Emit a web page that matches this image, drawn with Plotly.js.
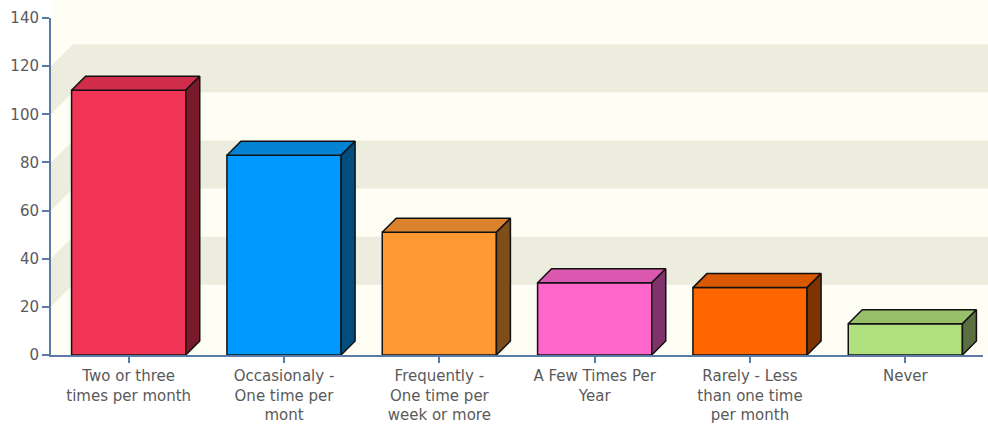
<!DOCTYPE html>
<html>
<head>
<meta charset="utf-8">
<script src="https://cdn.plot.ly/plotly-3.0.1.min.js"></script>
<style>
  html, body { margin: 0; padding: 0; background: #ffffff; }
  #chart { width: 988px; height: 430px; }
</style>
</head>
<body>
<div id="chart"></div>
<script>
// Survey answers: how often respondents do it
const categories = [
  "Two or three<br>times per month",
  "Occasionaly -<br>One time per<br>mont",
  "Frequently -<br>One time per<br>week or more",
  "A Few Times Per<br>Year",
  "Rarely - Less<br>than one time<br>per month",
  "Never"
];
const values = [110, 83, 51, 30, 28, 13];
const yTicks = [0, 20, 40, 60, 80, 100, 120, 140];

// face colours for each box: front, top, side
const frontColors = ["#F23457", "#0099FF", "#FF9933", "#FF66CC", "#FF6600", "#B0E07E"];
const topColors   = ["#D02D4B", "#0382D4", "#DA832C", "#DA58AF", "#DA5800", "#98C06B"];
const sideColors  = ["#781A2B", "#004D80", "#7F4D1A", "#80336A", "#7F3300", "#5A7040"];

// geometry
const W = 988, H = 430;
const margin = { l: 51, r: 5, t: 18, b: 75 };
const plotW = W - margin.l - margin.r;
const plotH = H - margin.t - margin.b;
const yMax = 140;
const nCat = categories.length;
const barWidth = 0.735;
const depthPx = 14;       // box depth
const wallDepthPx = 22;   // depth of the back wall

const pxPerCat = plotW / nCat;
const pxPerUnit = plotH / yMax;
const dxCat = depthPx / pxPerCat;
const dyVal = depthPx / pxPerUnit;

const idx = values.map((_, i) => i);
const hw = barWidth / 2;
const edge = { color: "#111111", width: 1.5 };

const traces = [];

// front faces
traces.push({
  type: "bar",
  x: idx,
  y: values,
  width: barWidth,
  marker: { color: frontColors, line: edge },
  hoverinfo: "y",
  showlegend: false
});

// top and side faces of each box
values.forEach((v, i) => {
  traces.push({
    type: "scatter",
    mode: "lines",
    x: [i - hw, i - hw + dxCat, i + hw + dxCat, i + hw, i - hw],
    y: [v, v + dyVal, v + dyVal, v, v],
    fill: "toself",
    fillcolor: topColors[i],
    line: edge,
    hoverinfo: "skip",
    showlegend: false
  });
  traces.push({
    type: "scatter",
    mode: "lines",
    x: [i + hw, i + hw + dxCat, i + hw + dxCat, i + hw, i + hw],
    y: [v, v + dyVal, dyVal, 0, v],
    fill: "toself",
    fillcolor: sideColors[i],
    line: edge,
    hoverinfo: "skip",
    showlegend: false
  });
});

// walls: cream base with alternating grey bands on back and left walls
const cream = "#FEFEF5";
const band = "#ECECDF";
const wx = wallDepthPx / plotW;
const wy = wallDepthPx / plotH;
const xRight = (W - margin.l) / plotW;
const yTop = (H - margin.b) / plotH;

const shapes = [{
  type: "rect", xref: "paper", yref: "paper", layer: "below",
  x0: 0, x1: xRight, y0: 0, y1: yTop,
  fillcolor: cream, line: { width: 0 }
}];
for (let k = 1; k < yTicks.length - 1; k += 2) {
  const a = yTicks[k] / yMax, b = yTicks[k + 1] / yMax;
  shapes.push({
    type: "rect", xref: "paper", yref: "paper", layer: "below",
    x0: wx, x1: xRight, y0: a + wy, y1: Math.min(b + wy, yTop),
    fillcolor: band, line: { width: 0 }
  });
  shapes.push({
    type: "path", xref: "paper", yref: "paper", layer: "below",
    path: `M 0 ${a} L ${wx} ${a + wy} L ${wx} ${b + wy} L 0 ${b} Z`,
    fillcolor: band, line: { width: 0 }
  });
}

const axisColor = "#5B7BA6";
const fontFamily = "DejaVu Sans, Verdana, sans-serif";

const layout = {
  width: W,
  height: H,
  margin: margin,
  paper_bgcolor: "#FFFFFF",
  plot_bgcolor: cream,
  showlegend: false,
  xaxis: {
    range: [-0.5, nCat - 0.5],
    tickvals: idx,
    ticktext: categories,
    showgrid: false,
    zeroline: false,
    showline: true,
    linecolor: axisColor,
    linewidth: 2,
    ticks: "outside",
    ticklen: 6,
    tickwidth: 2,
    tickcolor: axisColor,
    tickfont: { family: fontFamily, size: 15, color: "#5a5a5a" },
    fixedrange: true
  },
  yaxis: {
    range: [0, yMax],
    tickvals: yTicks,
    showgrid: false,
    zeroline: false,
    showline: true,
    linecolor: axisColor,
    linewidth: 2,
    ticks: "outside",
    ticklen: 7,
    tickwidth: 2,
    tickcolor: axisColor,
    tickfont: { family: fontFamily, size: 15, color: "#5a5a5a" },
    fixedrange: true
  },
  shapes: shapes
};

Plotly.newPlot("chart", traces, layout, { displayModeBar: false, staticPlot: true });
</script>
</body>
</html>
